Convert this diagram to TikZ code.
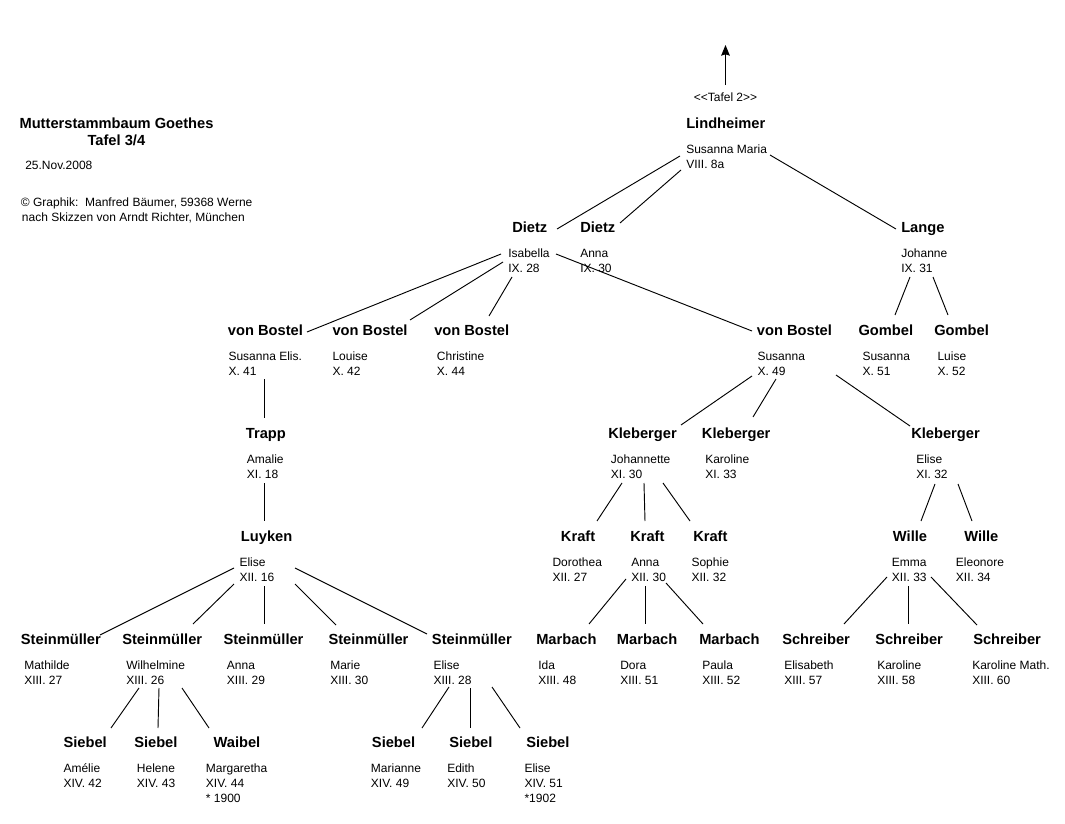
\documentclass[tikz,border=0pt]{standalone}
\usepackage{fontspec}
\setmainfont{Liberation Sans}
\usetikzlibrary{arrows.meta}
\tikzset{
  nm/.style={anchor=base west, inner sep=0pt, font=\fontsize{11}{13}\selectfont\bfseries},
  inf/.style={anchor=base west, inner sep=0pt, font=\fontsize{9}{11.25}\selectfont},
  ln/.style={line width=0.7pt, black},
  arr/.style={line width=0.8pt, -{Stealth[length=8pt,width=6.5pt,inset=1pt]}}
}
% person: id, name x, centre y, name, info x, info lines
\newcommand\person[6]{%
  \node[nm] (#1) at (#2,#3+5.2) {#4};
  \node[inf] (#1-i) at (#5,#3+29.8) {\begin{tabular}[t]{@{}l@{}}#6\end{tabular}};}
% connector between two named coordinates
\newcommand\conn[5]{%
  \coordinate (#1-a) at (#2,#3);
  \coordinate (#1-b) at (#4,#5);
  \draw[ln] (#1-a) -- (#1-b);}
\begin{document}
\begin{tikzpicture}[x=0.75pt,y=-0.75pt]
\path[use as bounding box] (0,0) rectangle (1065,824);

% header
\node[nm] (title) at (19.3,128.5) {Mutterstammbaum Goethes};
\node[nm] (tafel) at (87.3,145.2) {Tafel 3/4};
\node[inf] (date) at (25,170) {25.Nov.2008};
\node[inf] (graph) at (20.7,206) {© Graphik:\ \ Manfred Bäumer, 59368 Werne};
\node[inf] (nach) at (21.7,221) {nach Skizzen von Arndt Richter, München};

% link to Tafel 2
\node[inf, anchor=base] (t2) at (725.5,102) {<\kern0pt<Tafel 2>\kern0pt>};
\coordinate (arrtop) at (725.5,45);
\draw[arr, shorten <=6pt] (t2.north) -- (arrtop);

% persons
\person{lind}{686}{123.3}{Lindheimer}{686}{Susanna Maria\\VIII. 8a}
\person{dietzA}{512}{227.5}{Dietz}{508}{Isabella\\IX. 28}
\person{dietzB}{580}{227.5}{Dietz}{580}{Anna\\IX. 30}
\person{lange}{901}{227.5}{Lange}{901}{Johanne\\IX. 31}

\person{vbA}{227.7}{330.5}{von Bostel}{228.3}{Susanna Elis.\\X. 41}
\person{vbB}{332.3}{330.5}{von Bostel}{332.3}{Louise\\X. 42}
\person{vbC}{434}{330.5}{von Bostel}{436.7}{Christine\\X. 44}
\person{vbD}{756.7}{330.5}{von Bostel}{757.3}{Susanna\\X. 49}
\person{gomA}{858.3}{330.5}{Gombel}{862.3}{Susanna\\X. 51}
\person{gomB}{934}{330.5}{Gombel}{937.3}{Luise\\X. 52}

\person{trapp}{245.7}{433.3}{Trapp}{246.7}{Amalie\\XI. 18}
\person{klA}{608}{433.3}{Kleberger}{610.7}{Johannette\\XI. 30}
\person{klB}{701.7}{433.3}{Kleberger}{705}{Karoline\\XI. 33}
\person{klC}{911}{433.3}{Kleberger}{916}{Elise\\XI. 32}

\person{luy}{240.7}{536.5}{Luyken}{239.3}{Elise\\XII. 16}
\person{krA}{560.7}{536.3}{Kraft}{552.3}{Dorothea\\XII. 27}
\person{krB}{630}{536.3}{Kraft}{631}{Anna\\XII. 30}
\person{krC}{693}{536.3}{Kraft}{691.3}{Sophie\\XII. 32}
\person{wiA}{892.7}{536.3}{Wille}{891.7}{Emma\\XII. 33}
\person{wiB}{964}{536.3}{Wille}{955.7}{Eleonore\\XII. 34}

\person{stA}{20.7}{639.3}{Steinmüller}{24}{Mathilde\\XIII. 27}
\person{stB}{122}{639.3}{Steinmüller}{126}{Wilhelmine\\XIII. 26}
\person{stC}{223.3}{639.3}{Steinmüller}{226.7}{Anna\\XIII. 29}
\person{stD}{328.3}{639.3}{Steinmüller}{330}{Marie\\XIII. 30}
\person{stE}{431.7}{639.3}{Steinmüller}{433.3}{Elise\\XIII. 28}
\person{maA}{536}{639.3}{Marbach}{538}{Ida\\XIII. 48}
\person{maB}{616.7}{639.3}{Marbach}{620}{Dora\\XIII. 51}
\person{maC}{699}{639.3}{Marbach}{702}{Paula\\XIII. 52}
\person{scA}{782}{639.3}{Schreiber}{784}{Elisabeth\\XIII. 57}
\person{scB}{875}{639.3}{Schreiber}{877}{Karoline\\XIII. 58}
\person{scC}{973}{639.3}{Schreiber}{972}{Karoline Math.\\XIII. 60}

\person{siA}{63.3}{742.7}{Siebel}{63.3}{Amélie\\XIV. 42}
\person{siB}{134}{742.7}{Siebel}{136.7}{Helene\\XIV. 43}
\person{wai}{213.3}{742.7}{Waibel}{205.7}{Margaretha\\XIV. 44\\{*} 1900}
\person{siC}{371.7}{742.5}{Siebel}{370.7}{Marianne\\XIV. 49}
\person{siD}{449}{742.5}{Siebel}{447}{Edith\\XIV. 50}
\person{siE}{526}{742.5}{Siebel}{524.3}{Elise\\XIV. 51\\{*}1902}

% connectors
\conn{c1}{680}{156}{557}{229}
\conn{c2}{681}{170}{620}{223}
\conn{c3}{770}{155}{896}{229}
\conn{c4}{501}{254}{307}{332}
\conn{c5}{503}{262}{410}{320}
\conn{c6}{512}{277}{489}{316}
\conn{c7}{556}{254}{752}{331}
\conn{c8}{910}{277}{895}{315}
\conn{c9}{933}{277}{948}{315}
\conn{c10}{264}{379}{264}{418}
\conn{c11}{264}{483}{264}{521}
\conn{c12}{752}{376}{681}{425}
\conn{c13}{776}{379}{753}{417}
\conn{c14}{836}{375}{910}{426}
\conn{c15}{622}{483}{597}{521}
\conn{c16}{644}{483}{645}{521}
\conn{c17}{663}{483}{690}{521}
\conn{c18}{935}{484}{921}{521}
\conn{c19}{958}{484}{972}{521}
\conn{c20}{234}{568}{100}{635}
\conn{c21}{234}{584}{193}{624}
\conn{c22}{264}{586}{264}{624}
\conn{c23}{295}{584}{336}{625}
\conn{c24}{295}{568}{427}{634}
\conn{c25}{626}{579}{589}{624}
\conn{c26}{645}{586}{645}{624}
\conn{c27}{666}{583}{703}{624}
\conn{c28}{887}{577}{844}{624}
\conn{c29}{908}{586}{908}{624}
\conn{c30}{931}{577}{977}{625}
\conn{c31}{139}{688}{111}{728}
\conn{c32}{159}{688}{158}{728}
\conn{c33}{182}{688}{209}{728}
\conn{c34}{449}{687}{422}{728}
\conn{c35}{470}{688}{470}{728}
\conn{c36}{492}{687}{520}{728}
\end{tikzpicture}
\end{document}
